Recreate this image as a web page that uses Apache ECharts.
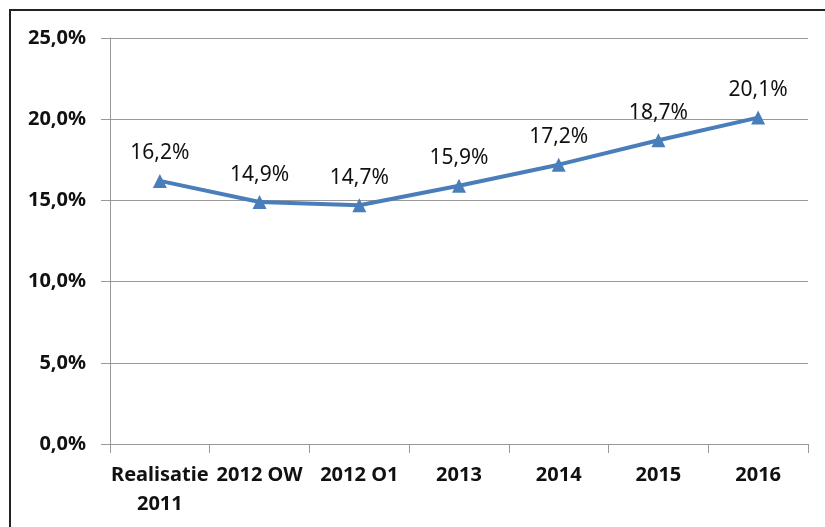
<!DOCTYPE html>
<html>
<head>
<meta charset="utf-8">
<script src="https://cdn.jsdelivr.net/npm/echarts@6/dist/echarts.min.js"></script>
<style>
  html, body { margin: 0; padding: 0; background: #fff; }
  #chart { width: 825px; height: 527px; }
</style>
</head>
<body>
<div id="chart"></div>
<script>
    var categories = ['Realisatie\n2011', '2012 OW', '2012 O1', '2013', '2014', '2015', '2016'];
    var values = [16.2, 14.9, 14.7, 15.9, 17.2, 18.7, 20.1];
    var yTicks = [0, 5, 10, 15, 20, 25];

    function pct(v) {
        return Number(v).toFixed(1).replace('.', ',') + '%';
    }

    var myChart = echarts.init(document.getElementById('chart'));
    var option = {
        backgroundColor: '#fff',
        animation: false,
        textStyle: { fontFamily: 'Noto Sans' },
        graphic: [{
            type: 'rect',
            shape: { x: 10, y: 10, width: 840, height: 540 },
            style: { fill: 'none', stroke: '#222', lineWidth: 2 }
        }],
        grid: { left: 110, right: 17, top: 38, bottom: 83 },
        xAxis: {
            type: 'category',
            data: categories,
            boundaryGap: true,
            axisLine: { lineStyle: { color: '#999', width: 1 } },
            axisTick: { show: true, length: 9, lineStyle: { color: '#999' } },
            axisLabel: {
                color: '#111', fontSize: 20, fontWeight: 'bold',
                margin: 17, lineHeight: 29, interval: 0
            }
        },
        yAxis: {
            type: 'value',
            min: yTicks[0],
            max: yTicks[yTicks.length - 1],
            interval: 5,
            axisLine: { show: true, lineStyle: { color: '#999', width: 1 } },
            axisTick: { show: true, length: 9, lineStyle: { color: '#999' } },
            splitLine: { lineStyle: { color: '#999', width: 1 } },
            axisLabel: {
                color: '#111', fontSize: 20, fontWeight: 'bold', margin: 24,
                formatter: pct
            }
        },
        series: [{
            type: 'line',
            data: values,
            symbol: 'triangle',
            symbolSize: 14,
            lineStyle: { color: '#4a7ebb', width: 4 },
            itemStyle: { color: '#4a7ebb' },
            label: {
                show: true, position: 'top', distance: 10,
                color: '#111', fontSize: 21,
                formatter: function (p) { return pct(p.value); }
            }
        }]
    };
    myChart.setOption(option);
</script>
</body>
</html>
